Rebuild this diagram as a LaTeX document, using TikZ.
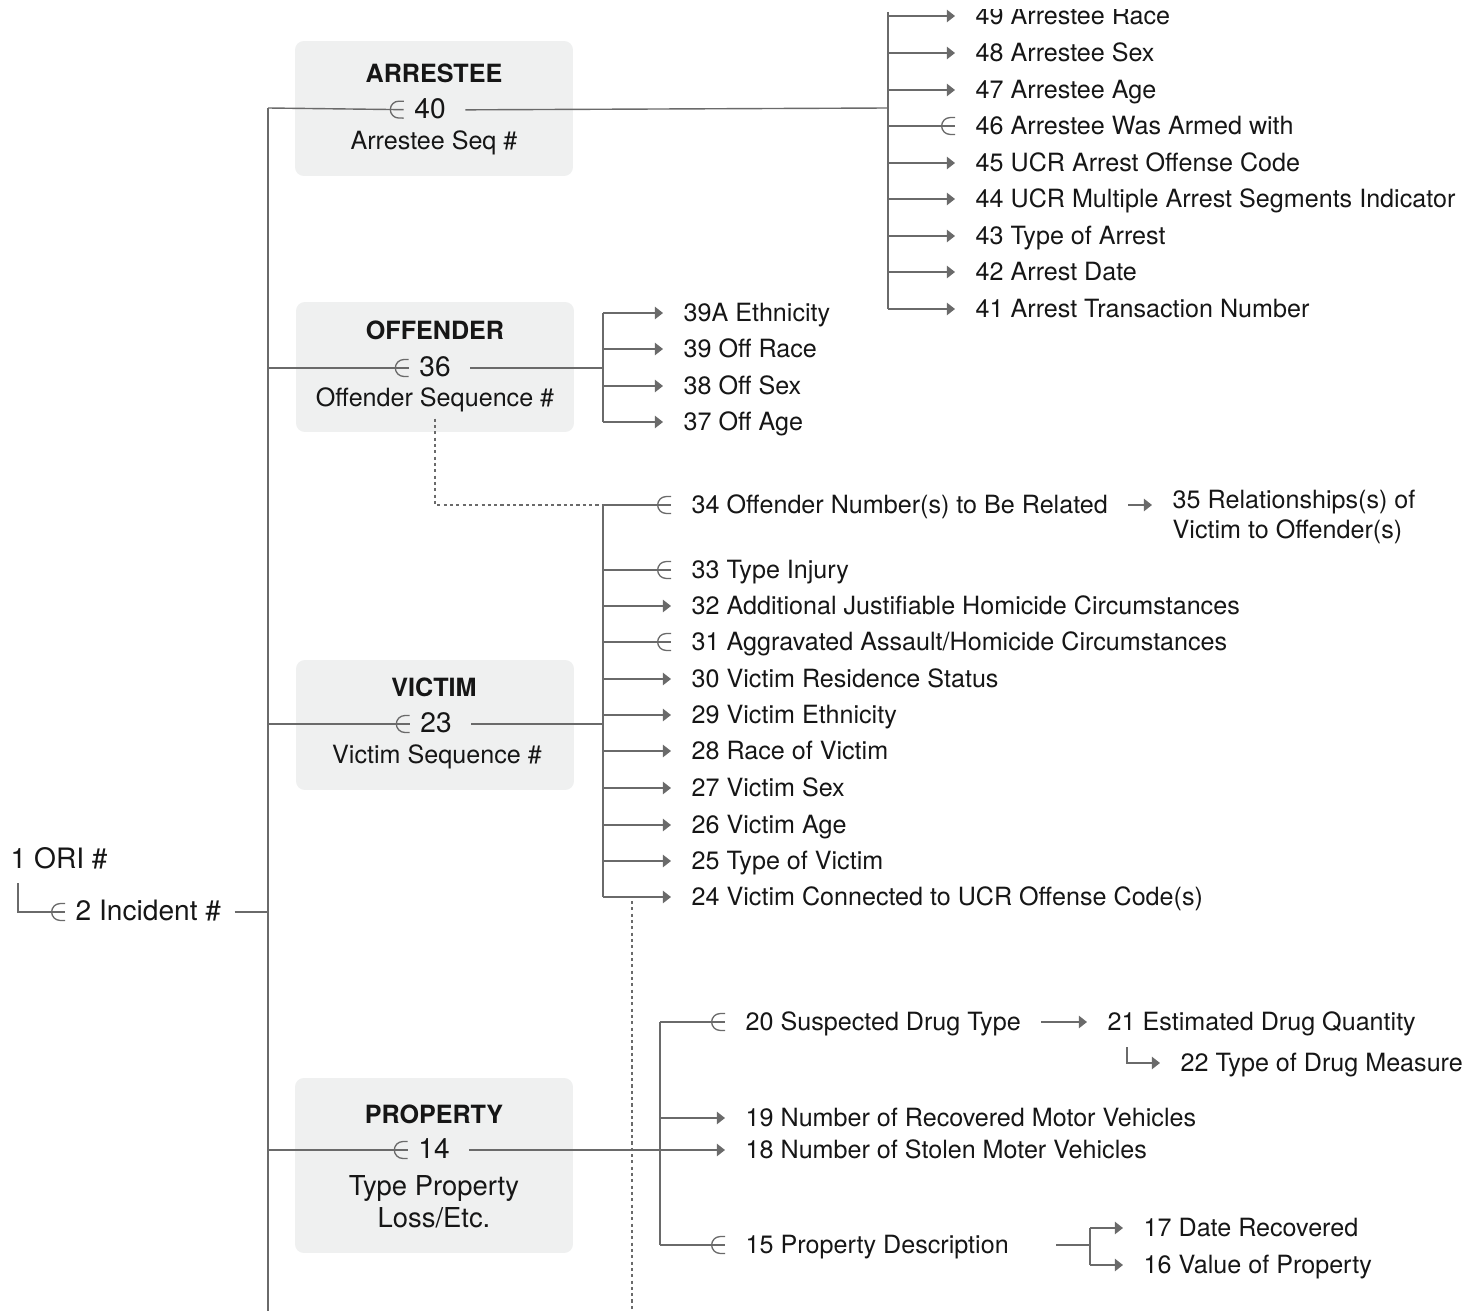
\documentclass[tikz,border=0pt]{standalone}
\usepackage{fontspec}
\setmainfont{TeX Gyre Heros}
\usetikzlibrary{positioning,arrows.meta,decorations.markings}
\definecolor{linegray}{HTML}{6A6A6A}
\definecolor{boxgray}{HTML}{EFF0F0}
\definecolor{ink}{HTML}{161616}

\begin{document}
\begin{tikzpicture}[x=0.02cm, y=-0.02cm, line width=0.8pt, color=linegray,
  every node/.style={text=ink, font=\fontsize{14.3}{17}\selectfont},
  field/.style={anchor=west, inner xsep=0.4cm, inner ysep=0pt, text height=12pt, text depth=2.4pt},
  panel/.style={fill=boxgray, rounded corners=5pt, minimum width=5.56cm, inner sep=0pt},
  title/.style={font=\fontsize{14.3}{17}\selectfont\bfseries},
  seqno/.style={inner xsep=0.2cm, inner ysep=0pt, text height=12pt, text depth=2.4pt, font=\fontsize{16}{19}\selectfont},
  arr/.style={-{Triangle[length=4.6pt,width=7pt]}},
  memb/.style={postaction={decorate, decoration={markings, mark=at position 1 with {\draw[line width=0.75pt] (0pt,4.8pt) -- (-2.8pt,4.8pt) arc[start angle=90,end angle=270,radius=4.8pt] -- (0pt,-4.8pt);}}}},
  link/.style={dash pattern=on 1.8pt off 1.8pt}]
\useasboundingbox (0,0) rectangle (1468,1311);
\clip (0,10) rectangle (1468,1311);

% record boxes
\node[panel, minimum height=2.7cm] (arrbox) at (434,108.5) {};
\node[panel, minimum height=2.6cm] (offbox) at (435,367) {};
\node[panel, minimum height=2.6cm] (vicbox) at (435,725) {};
\node[panel, minimum height=3.5cm] (propbox) at (434,1165.5) {};

\node[title] (arrtitle) at (434,73) {ARRESTEE};
\node[seqno] (arrno) at (430,110) {40};
\node (arrsub) at (434,143) {Arrestee Seq \#};
\node[title] (offtitle) at (435,330) {OFFENDER};
\node[seqno] (offno) at (435,368) {36};
\node (offsub) at (435,400) {Offender Sequence \#};
\node[title] (victitle) at (434,687) {VICTIM};
\node[seqno] (vicno) at (436,724) {23};
\node (vicsub) at (437,757) {Victim Sequence \#};
\node[title] (proptitle) at (434,1114) {PROPERTY};
\node[seqno] (propno) at (434,1150) {14};
\node[align=center, font=\fontsize{15.6}{18.2}\selectfont] (propsub) at (434,1202) {Type Property\\Loss/Etc.};

% incident
\node[anchor=west, inner xsep=0pt, font=\fontsize{16}{19}\selectfont] (ori) at (10,858) {1 ORI \#};
\node[field, inner xsep=0.2cm, font=\fontsize{16}{19}\selectfont] (incident) at (65,912) {2 Incident \#};

% arrestee fields
\node[field] (race49) at (955,16) {49 Arrestee Race};
\node[field] (sex48) at (955,53) {48 Arrestee Sex};
\node[field] (age47) at (955,90) {47 Arrestee Age};
\node[field] (armed46) at (955,126) {46 Arrestee Was Armed with};
\node[field] (code45) at (955,163) {45 UCR Arrest Offense Code};
\node[field] (multi44) at (955,199) {44 UCR Multiple Arrest Segments Indicator};
\node[field] (type43) at (955,236) {43 Type of Arrest};
\node[field] (date42) at (955,272) {42 Arrest Date};
\node[field] (trans41) at (955,309) {41 Arrest Transaction Number};

% offender fields
\node[field] (eth39a) at (663,313) {39A Ethnicity};
\node[field] (race39) at (663,349) {39 Off Race};
\node[field] (sex38) at (663,386) {38 Off Sex};
\node[field] (age37) at (663,422) {37 Off Age};

% victim fields
\node[field] (rel34) at (671,505) {34 Offender Number(s) to Be Related};
\node[anchor=west, align=left, inner xsep=0.4cm] (relto35) at (1152,517) {35 Relationships(s) of\\Victim to Offender(s)};
\node[field] (injury33) at (671,570) {33 Type Injury};
\node[field] (justif32) at (671,606) {32 Additional Justifiable Homicide Circumstances};
\node[field] (aggr31) at (671,642) {31 Aggravated Assault/Homicide Circumstances};
\node[field] (resid30) at (671,679) {30 Victim Residence Status};
\node[field] (eth29) at (671,715) {29 Victim Ethnicity};
\node[field] (race28) at (671,751) {28 Race of Victim};
\node[field] (sex27) at (671,788) {27 Victim Sex};
\node[field] (age26) at (671,825) {26 Victim Age};
\node[field] (type25) at (671,861) {25 Type of Victim};
\node[field] (conn24) at (671,897) {24 Victim Connected to UCR Offense Code(s)};

% property fields
\node[field] (drug20) at (725,1022) {20 Suspected Drug Type};
\node[field] (qty21) at (1087,1022) {21 Estimated Drug Quantity};
\node[field] (measure22) at (1160,1063) {22 Type of Drug Measure};
\node[field] (recov19) at (725,1118) {19 Number of Recovered Motor Vehicles};
\node[field] (stolen18) at (725,1150) {18 Number of Stolen Moter Vehicles};
\node[field] (desc15) at (725,1245) {15 Property Description};
\node[field] (date17) at (1123,1228) {17 Date Recovered};
\node[field] (value16) at (1123,1265) {16 Value of Property};

\coordinate (trunktop) at (268,108);
\coordinate (trunkbot) at (268,1320);
\coordinate (arrbus) at (888,108);
\coordinate (offbus) at (603,368);
\coordinate (vicbus) at (603,724);
\coordinate (propbus) at (660,1150);
\coordinate (descbus) at (1090,1245);
\coordinate (linktop) at (632,901);
\coordinate (linkbot) at (632,1320);

% trunk
\draw (trunktop) -- (trunkbot);
\draw[memb] (ori.south west) ++(8,8) |- (incident);
\draw[shorten <=0.06cm] (incident) -- (incident -| trunktop);
\draw[memb] (trunktop) -- (arrno);
\draw[memb] (trunktop |- offno) -- (offno);
\draw[memb] (trunktop |- vicno) -- (vicno);
\draw[memb] (trunktop |- propno) -- (propno);

% arrestee
\draw[shorten <=0.18cm] (arrno) -- (arrbus);
\draw ([yshift=0.08cm]arrbus |- race49) -- (arrbus |- trans41);
\draw[arr] (arrbus |- race49) -- (race49);
\draw[arr] (arrbus |- sex48) -- (sex48);
\draw[arr] (arrbus |- age47) -- (age47);
\draw[memb] (arrbus |- armed46) -- (armed46);
\draw[arr] (arrbus |- code45) -- (code45);
\draw[arr] (arrbus |- multi44) -- (multi44);
\draw[arr] (arrbus |- type43) -- (type43);
\draw[arr] (arrbus |- date42) -- (date42);
\draw[arr] (arrbus |- trans41) -- (trans41);

% offender
\draw[shorten <=0.18cm] (offno) -- (offbus);
\draw (offbus |- eth39a) -- (offbus |- age37);
\draw[arr] (offbus |- eth39a) -- (eth39a);
\draw[arr] (offbus |- race39) -- (race39);
\draw[arr] (offbus |- sex38) -- (sex38);
\draw[arr] (offbus |- age37) -- (age37);
\draw[link] (offsub.south) |- (vicbus |- rel34);

% victim
\draw[shorten <=0.18cm] (vicno) -- (vicbus);
\draw (vicbus |- rel34) -- (vicbus |- conn24);
\draw[memb] (vicbus |- rel34) -- (rel34);
\draw[arr] (rel34) -- (rel34 -| relto35.west);
\draw[memb] (vicbus |- injury33) -- (injury33);
\draw[arr] (vicbus |- justif32) -- (justif32);
\draw[memb] (vicbus |- aggr31) -- (aggr31);
\draw[arr] (vicbus |- resid30) -- (resid30);
\draw[arr] (vicbus |- eth29) -- (eth29);
\draw[arr] (vicbus |- race28) -- (race28);
\draw[arr] (vicbus |- sex27) -- (sex27);
\draw[arr] (vicbus |- age26) -- (age26);
\draw[arr] (vicbus |- type25) -- (type25);
\draw[arr] (vicbus |- conn24) -- (conn24);
\draw[link] (linktop) -- (linkbot);

% property
\draw[arr, shorten <=0.18cm] (propno) -- (stolen18);
\draw (propbus |- drug20) -- (propbus |- desc15);
\draw[memb] (propbus |- drug20) -- (drug20);
\draw[arr] (drug20) -- (qty21);
\draw[arr] ([shift={(0.8cm,-0.24cm)}]qty21.south west) |- (measure22);
\draw[arr] (propbus |- recov19) -- (recov19);
\draw[memb] (propbus |- desc15) -- (desc15);
\draw[shorten <=0.54cm] (desc15) -- (descbus);
\draw (descbus |- date17) -- (descbus |- value16);
\draw[arr] (descbus |- date17) -- (date17);
\draw[arr] (descbus |- value16) -- (value16);
\end{tikzpicture}
\end{document}
